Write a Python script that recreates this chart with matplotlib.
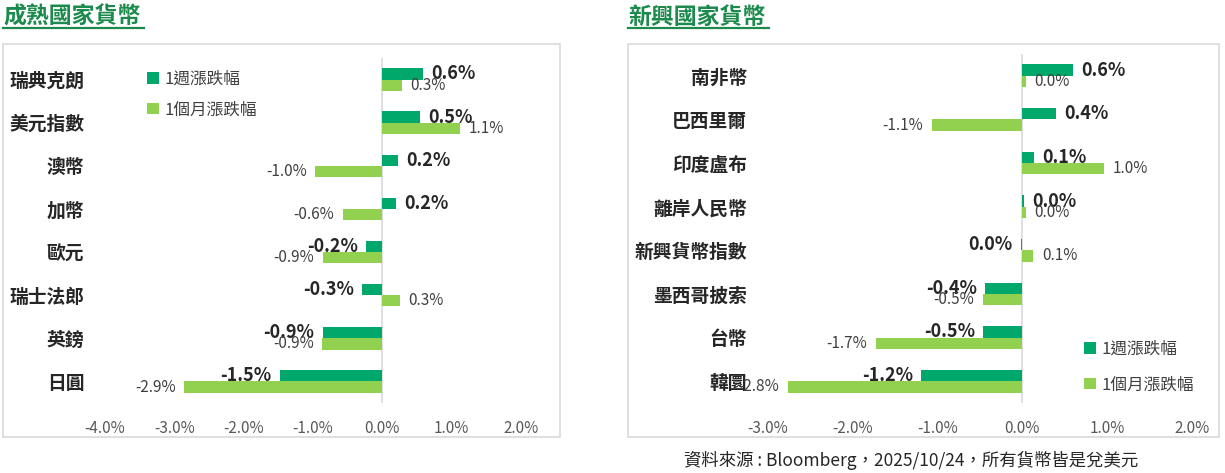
import matplotlib.pyplot as plt
from matplotlib.patches import Rectangle
from matplotlib.lines import Line2D

plt.rcParams['font.family'] = ['Noto Sans CJK TC', 'DejaVu Sans']

DARK = '#00A86B'
LIGHT = '#92D050'
TITLE_GREEN = '#1B8A4C'
GRID = '#D9D9D9'

series_names = ['1週漲跌幅', '1個月漲跌幅']

dev_names = ['瑞典克朗', '美元指數', '澳幣', '加幣', '歐元', '瑞士法郎', '英鎊', '日圓']
dev_week = [0.58, 0.54, 0.23, 0.19, -0.23, -0.29, -0.86, -1.48]
dev_month = [0.28, 1.12, -0.97, -0.57, -0.86, 0.26, -0.87, -2.86]
dev_ticks = [-4, -3, -2, -1, 0, 1, 2]

em_names = ['南非幣', '巴西里爾', '印度盧布', '離岸人民幣', '新興貨幣指數', '墨西哥披索', '台幣', '韓圜']
em_week = [0.60, 0.40, 0.14, 0.02, -0.02, -0.44, -0.46, -1.19]
em_month = [0.04, -1.07, 0.96, 0.04, 0.13, -0.47, -1.73, -2.77]
em_ticks = [-3, -2, -1, 0, 1, 2]

W, H = 1225, 473
fig = plt.figure(figsize=(W / 100, H / 100), dpi=100)


def box(x0, y0, x1, y1):
    return [x0 / W, 1 - y1 / H, (x1 - x0) / W, (y1 - y0) / H]


def fmt(v):
    s = f'{v:.1f}%'
    return '0.0%' if s == '-0.0%' else s


def panel(rect, frame, title_x, title, names, week, month, ticks, leg_xy, leg_space):
    # outer frame and title
    fig.patches.append(Rectangle((frame[0] / W, 1 - frame[3] / H),
                                 (frame[2] - frame[0]) / W, (frame[3] - frame[1]) / H,
                                 transform=fig.transFigure, fill=False,
                                 edgecolor=GRID, linewidth=1.2))
    fig.text(title_x / W, 1 - 17 / H, title, fontsize=16.5, fontweight='bold',
             color=TITLE_GREEN, ha='left', va='center')
    fig.lines.append(Line2D([title_x / W, (title_x + 141) / W], [1 - 28.5 / H, 1 - 28.5 / H],
                            transform=fig.transFigure, color=TITLE_GREEN, linewidth=1.6))

    ax = fig.add_axes(box(*rect))
    y = list(range(len(names)))
    h = 0.26
    b1 = ax.barh([i - h / 2 for i in y], week, height=h, color=DARK, label=series_names[0])
    b2 = ax.barh([i + h / 2 for i in y], month, height=h, color=LIGHT, label=series_names[1])
    ax.axvline(0, color=GRID, linewidth=1.2, zorder=0)

    for i in y:
        v = week[i]
        ax.annotate(fmt(v), (v, i - h / 2), xytext=(6 if v >= 0 else -6, 0),
                    textcoords='offset points', ha='left' if v >= 0 else 'right',
                    va='center', fontsize=13, color='#262626', fontweight='semibold')
        v = month[i]
        ax.annotate(fmt(v), (v, i + h / 2), xytext=(6 if v >= 0 else -6, 0),
                    textcoords='offset points', ha='left' if v >= 0 else 'right',
                    va='center', fontsize=11, color='#404040')

    ax.set_xlim(ticks[0], ticks[-1])
    ax.set_ylim(len(names) - 0.5, -0.5)
    ax.set_xticks(ticks)
    ax.set_xticklabels([f'{v:.1f}%' for v in ticks], fontsize=11, color='#595959')
    ax.set_yticks(y)
    ax.set_yticklabels(names, fontsize=13.5, color='#262626', fontweight='semibold')
    ax.tick_params(axis='x', length=0, pad=12)
    ax.tick_params(axis='y', length=0, pad=15)
    for s in ax.spines.values():
        s.set_visible(False)
    ax.patch.set_alpha(0)

    ax.legend(handles=[b1, b2], loc='upper left',
              bbox_to_anchor=(leg_xy[0] / W, 1 - leg_xy[1] / H),
              bbox_transform=fig.transFigure, frameon=False, borderpad=0,
              handlelength=0.7, handleheight=0.7, handletextpad=0.35,
              labelspacing=leg_space, prop={'size': 12},
              labelcolor='#404040', borderaxespad=0)
    return ax


panel((105, 58, 521, 403), (3, 44, 560, 437), 3, '成熟國家貨幣',
      dev_names, dev_week, dev_month, dev_ticks, (147, 71), 0.8)
panel((768, 54, 1192, 403), (628, 44, 1219, 437), 628, '新興國家貨幣',
      em_names, em_week, em_month, em_ticks, (1084, 341), 1.1)

fig.text(911 / W, 1 - 460 / H, '資料來源 : Bloomberg，2025/10/24，所有貨幣皆是兌美元',
         fontsize=12.5, color='#262626', ha='center', va='center')

fig.savefig('out.png', dpi=100)
